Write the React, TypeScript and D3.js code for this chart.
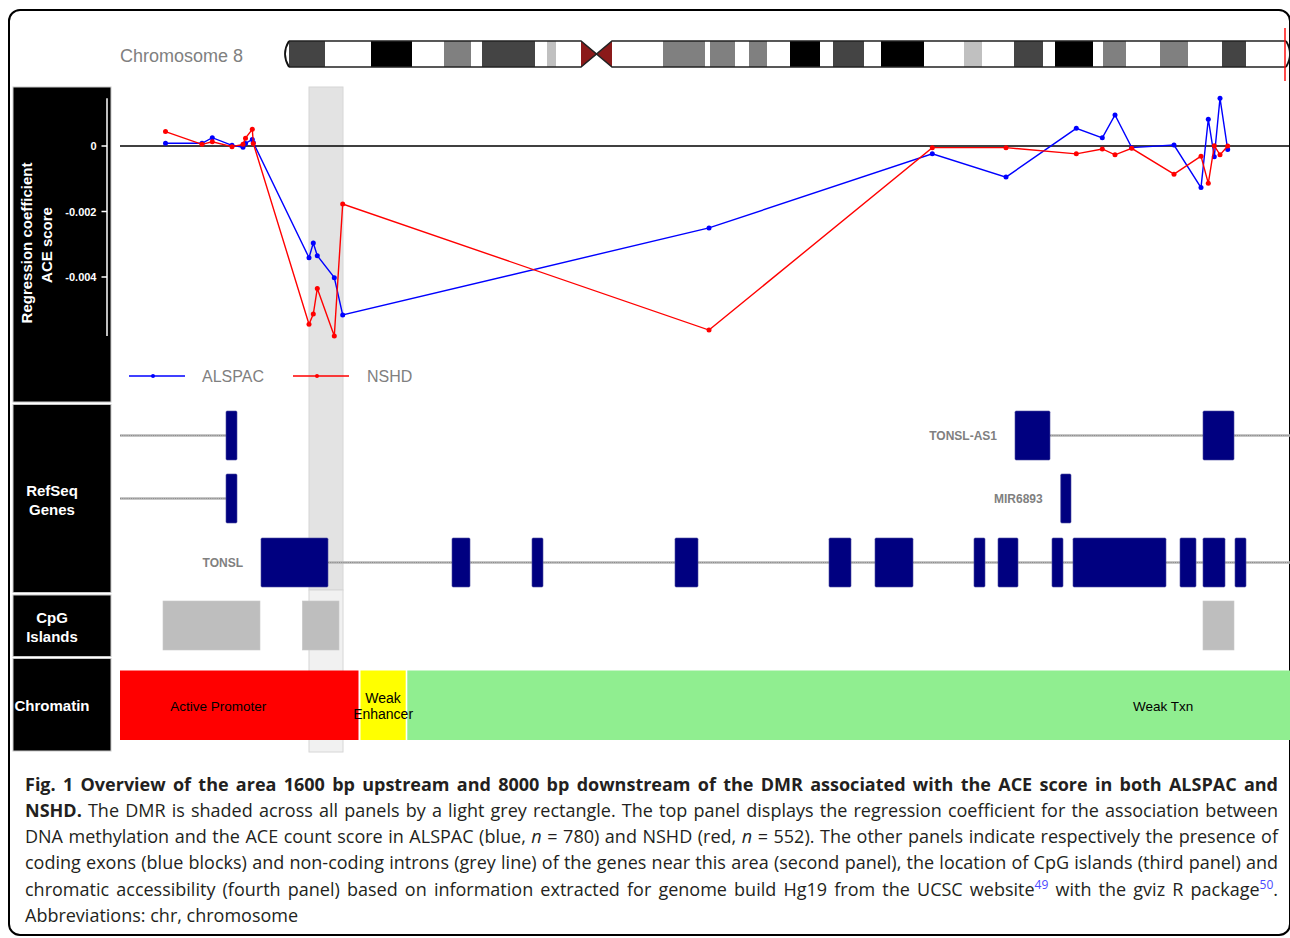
import React, { useLayoutEffect, useRef } from "react";
import * as d3 from "d3";

// Genomic offsets (bp) of the CpG sites measured in the region
const cpgPositions = [
  455, 820, 923, 1120, 1230, 1255, 1323, 1333, 1890, 1933, 1973, 2143, 2227,
  5890, 8123, 8860, 9563, 9823, 9950, 10117, 10540, 10810, 10883, 10943, 11000, 11077,
];
// Regression coefficients for the ACE score, ALSPAC cohort
const alspacCoef = [
  0.000082, 0.000082, 0.000253, 0.00002, -0.00004, 0.00008, 0.0002, 0.0001,
  -0.00341, -0.00296, -0.00335, -0.00402, -0.00516, -0.0025, -0.00024, -0.00095,
  0.00054, 0.00025, 0.00095, -0.00005, 0.00003, -0.00127, 0.00082, -0.00033, 0.00146, -0.00011,
];
// Regression coefficients for the ACE score, NSHD cohort
const nshdCoef = [
  0.00044, 0.00005, 0.00013, -0.00002, 0.00005, 0.00024, 0.00051, 0.00008,
  -0.00544, -0.00513, -0.00435, -0.0058, -0.00177, -0.00562, -0.00005, -0.00005,
  -0.00024, -0.00009, -0.00027, -0.00007, -0.00086, -0.00031, -0.00114, 0.00001, -0.00027, 0,
];
const yTicks = [0, -0.002, -0.004];
const regionLength = 11700;
const dmr = [1890, 2230];

// RefSeq transcripts, one per row: exons and intron span
const geneRows = [
  { label: "", exons: [[1060, 1170]], intron: [0, 1060] },
  { label: "TONSL-AS1", exons: [[8950, 9300], [10830, 11140]], intron: [9300, 11700] },
  { label: "", exons: [[1060, 1170]], intron: [0, 1060], row: 1 },
  { label: "MIR6893", exons: [[9407, 9510]], intron: null, row: 1 },
  {
    label: "TONSL",
    exons: [
      [1410, 2080], [3320, 3500], [4120, 4230], [5550, 5780], [7090, 7310], [7550, 7930],
      [8540, 8650], [8780, 8980], [9320, 9430], [9530, 10460], [10600, 10760], [10830, 11050], [11150, 11260],
    ],
    intron: [2080, 11700],
    row: 2,
  },
];
const cpgIslands = [[430, 1400], [1823, 2190], [10830, 11140]];
// Chromatin state segments (full extents; they run past the window edges)
const chromStates = [
  { start: -420, end: 2385, name: ["Active Promoter"], color: "#ff0000" },
  { start: 2405, end: 2857, name: ["Weak", "Enhancer"], color: "#ffff00" },
  { start: 2873, end: 17990, name: ["Weak Txn"], color: "#90ee90" },
];

// Chromosome 8 ideogram bands (pixel extents along the drawn ideogram)
const pArmBands: [number, number, string][] = [
  [289, 325, "#444"], [325, 371, "#fff"], [371, 412, "#000"], [412, 444, "#fff"],
  [444, 471, "#808080"], [471, 482, "#fff"], [482, 535, "#444"], [535, 547, "#fff"],
  [547, 556, "#c0c0c0"], [556, 581, "#fff"],
];
const qArmBands: [number, number, string][] = [
  [612, 663, "#fff"], [663, 705, "#808080"], [705, 710, "#fff"], [710, 735, "#808080"],
  [735, 749, "#fff"], [749, 767, "#808080"], [767, 790, "#fff"], [790, 820, "#000"],
  [820, 833, "#fff"], [833, 864, "#444"], [864, 881, "#fff"], [881, 924, "#000"],
  [924, 964, "#fff"], [964, 982, "#c0c0c0"], [982, 1014, "#fff"], [1014, 1043, "#444"],
  [1043, 1055, "#fff"], [1055, 1093, "#000"], [1093, 1103, "#fff"], [1103, 1126, "#808080"],
  [1126, 1160, "#fff"], [1160, 1188, "#808080"], [1188, 1222, "#fff"], [1222, 1246, "#444"],
  [1246, 1286, "#fff"],
];

const W = 1290;
const H = 938;
const plotLeft = 120;
const plotRight = 1290;
const ARIAL = "'Liberation Sans', Arial, sans-serif";

export default function App() {
  const capRef = useRef<SVGGElement>(null);

  const x = d3.scaleLinear().domain([0, regionLength]).range([plotLeft, plotRight]);
  const y = d3.scaleLinear().domain([-0.004, 0]).range([277, 146]);

  const line = d3
    .line<number>()
    .x((_, i) => x(cpgPositions[i]))
    .y((v) => y(v));

  const allVals = [...alspacCoef, ...nshdCoef];
  const yMax = d3.max(allVals)!;
  const yMin = d3.min(allVals)!;

  const rowCenters = [435.5, 498.5, 562.5];
  const exonH = 49;

  useLayoutEffect(() => {
    const fit = () => {
      const g = capRef.current;
      if (!g) return;
      g.querySelectorAll<SVGTextElement>("text[data-w]").forEach((t) => {
        const target = +(t.dataset.w as string);
        t.style.wordSpacing = "0px";
        t.removeAttribute("transform");
        const w = t.getComputedTextLength();
        const spaces = ((t.textContent || "").match(/ /g) || []).length;
        const tx = +(t.getAttribute("x") as string);
        const ty = +(t.getAttribute("y") as string);
        if (w > target) {
          const s = target / w;
          t.setAttribute("transform", `translate(${tx},${ty}) scale(${s},1) translate(${-tx},${-ty})`);
        } else if (t.dataset.j === "1" && spaces > 0) {
          t.style.wordSpacing = `${(target - w) / spaces}px`;
        }
      });
    };
    fit();
    if ((document as any).fonts) (document as any).fonts.ready.then(fit);
  }, []);

  const capFont = "'Open Sans', 'Noto Sans', sans-serif";
  const capFill = "#231f20";
  const capX = 25;
  const capW = 1253;
  const supStyle = { fontSize: 12, fill: "#4b4bff" };

  const clampX = (v: number) => Math.max(plotLeft, Math.min(plotRight, x(v)));

  return (
    <svg
      width={W}
      height={H}
      style={{ position: "absolute", left: 0, top: 0, background: "#fff" }}
      fontFamily={ARIAL}
    >
      {/* figure frame */}
      <rect x={9} y={10} width={1281} height={925} rx={11} fill="none" stroke="#000" strokeWidth={2} />

      {/* chromosome ideogram */}
      <text x={120} y={61.5} fontSize={18} fill="#808080">Chromosome 8</text>
      <g>
        {pArmBands.concat(qArmBands).map(([a, b, c], i) => (
          <rect key={i} x={a} y={41} width={b - a} height={26} fill={c} />
        ))}
        <polygon points="581,41 597,54 581,67" fill="#8b1a1a" />
        <polygon points="612,41 597,54 612,67" fill="#8b1a1a" />
        <path
          d="M289,41 L581,41 L612,67 L1286,67 M289,67 L581,67 L612,41 L1286,41"
          fill="none"
          stroke="#222"
          strokeWidth={1.6}
        />
        <path d="M289,41 Q281,54 289,67" fill="none" stroke="#111" strokeWidth={1.8} />
        <path d="M1286,41 Q1294,54 1286,67" fill="none" stroke="#111" strokeWidth={1.8} />
        <line x1={1285} x2={1285} y1={28} y2={81} stroke="#ff0000" strokeWidth={1.4} />
      </g>

      {/* track title panels */}
      <g>
        <rect x={13} y={87} width={98} height={315} fill="#000" stroke="#c8c8c8" strokeWidth={1} />
        <rect x={13} y={404.5} width={98} height={188} fill="#000" stroke="#c8c8c8" strokeWidth={1} />
        <rect x={13} y={595} width={98} height={61.5} fill="#000" stroke="#c8c8c8" strokeWidth={1} />
        <rect x={13} y={658.5} width={98} height={92.5} fill="#000" stroke="#c8c8c8" strokeWidth={1} />
        <g fill="#fff" fontWeight="bold" fontSize={15} textAnchor="middle">
          <text transform="translate(32,243) rotate(-90)">Regression coefficient</text>
          <text transform="translate(51.5,245) rotate(-90)">ACE score</text>
          <text x={52} y={496}>RefSeq</text>
          <text x={52} y={515}>Genes</text>
          <text x={52} y={623}>CpG</text>
          <text x={52} y={642}>Islands</text>
          <text x={52} y={711}>Chromatin</text>
        </g>
        {/* y axis */}
        <line x1={107} x2={107} y1={y(yMax)} y2={y(yMin)} stroke="#fff" strokeWidth={1.5} />
        {yTicks.map((t) => (
          <g key={t}>
            <line x1={101.5} x2={107} y1={y(t)} y2={y(t)} stroke="#fff" strokeWidth={1.5} />
            <text x={96.5} y={y(t) + 4} fill="#fff" fontWeight="bold" fontSize={11} textAnchor="end">
              {t === 0 ? "0" : t.toFixed(3)}
            </text>
          </g>
        ))}
      </g>

      {/* DMR highlight across all tracks */}
      <rect x={x(dmr[0])} y={87} width={x(dmr[1]) - x(dmr[0])} height={503} fill="#e3e3e3" stroke="#d6d6d6" strokeWidth={1} />
      <rect x={x(dmr[0])} y={590} width={x(dmr[1]) - x(dmr[0])} height={162} fill="#f1f1f1" stroke="#d6d6d6" strokeWidth={1} />

      {/* data track */}
      <line x1={plotLeft} x2={plotRight} y1={y(0)} y2={y(0)} stroke="#000" strokeWidth={1.6} />
      {[
        { vals: alspacCoef, color: "#0000ff" },
        { vals: nshdCoef, color: "#ff0000" },
      ].map((s, k) => (
        <g key={k}>
          <path d={line(s.vals) || ""} fill="none" stroke={s.color} strokeWidth={1.4} />
          {s.vals.map((v, i) => (
            <circle key={i} cx={x(cpgPositions[i])} cy={y(v)} r={2.5} fill={s.color} />
          ))}
        </g>
      ))}

      {/* legend */}
      <g fontSize={16} fill="#808080">
        <line x1={129} x2={185} y1={376} y2={376} stroke="#0000ff" strokeWidth={1.4} />
        <circle cx={153} cy={376} r={2} fill="#0000ff" />
        <text x={202} y={382}>ALSPAC</text>
        <line x1={293} x2={349} y1={376} y2={376} stroke="#ff0000" strokeWidth={1.4} />
        <circle cx={317} cy={376} r={2} fill="#ff0000" />
        <text x={367} y={382}>NSHD</text>
      </g>

      {/* RefSeq genes */}
      {geneRows.map((g, gi) => {
        const cy = rowCenters[g.row ?? 0];
        return (
          <g key={gi}>
            {g.intron && (
              <g>
                <line x1={x(g.intron[0])} x2={x(g.intron[1])} y1={cy} y2={cy} stroke="#b4b4b4" strokeWidth={2.4} />
                <line x1={x(g.intron[0])} x2={x(g.intron[1])} y1={cy} y2={cy} stroke="#8c8c8c" strokeWidth={1} strokeDasharray="1,1.2" />
              </g>
            )}
            {g.exons.map(([a, b], ei) => (
              <rect
                key={ei}
                x={x(a)}
                y={cy - exonH / 2}
                width={x(b) - x(a)}
                height={exonH}
                rx={1.2}
                fill="#000080"
                stroke="#4a4aa0"
                strokeWidth={0.6}
              />
            ))}
            {g.label && (
              <text x={x(g.exons[0][0]) - 18} y={cy + 4.5} fontSize={12} fontWeight="bold" fill="#808080" textAnchor="end">
                {g.label}
              </text>
            )}
          </g>
        );
      })}

      {/* CpG islands */}
      {cpgIslands.map(([a, b], i) => (
        <rect key={i} x={x(a)} y={601} width={x(b) - x(a)} height={49} fill="#bebebe" stroke="#c8c8c8" strokeWidth={0.6} />
      ))}

      {/* chromatin states */}
      {chromStates.map((c, i) => (
        <rect
          key={i}
          x={clampX(c.start)}
          y={670.5}
          width={clampX(c.end) - clampX(c.start)}
          height={69.5}
          fill={c.color}
        />
      ))}
      {chromStates.map((c, i) => {
        const cx = (x(c.start) + x(c.end)) / 2;
        return (
          <g key={i}>
            {c.name.map((n, j) => (
              <text
                key={j}
                x={cx}
                y={705.5 + 5 + (j - (c.name.length - 1) / 2) * 16}
                fontSize={c.name.length > 1 ? 14 : 13.5}
                textAnchor="middle"
                fill="#000"
              >
                {n}
              </text>
            ))}
          </g>
        );
      })}

      {/* caption */}
      <g ref={capRef} fontFamily={capFont} fontSize={18} fill={capFill}>
        <text x={capX} y={791} data-w={capW} data-j="1" fontWeight="bold">
          Fig. 1 Overview of the area 1600 bp upstream and 8000 bp downstream of the DMR associated with the ACE score in both ALSPAC and
        </text>
        <text x={capX} y={817} data-w={capW} data-j="1">
          <tspan fontWeight="bold">NSHD.</tspan> The DMR is shaded across all panels by a light grey rectangle. The top panel displays the regression coefficient for the association between
        </text>
        <text x={capX} y={843} data-w={capW} data-j="1">
          DNA methylation and the ACE count score in ALSPAC (blue, <tspan fontStyle="italic">n</tspan> = 780) and NSHD (red, <tspan fontStyle="italic">n</tspan> = 552). The other panels indicate respectively the presence of
        </text>
        <text x={capX} y={869} data-w={capW} data-j="1">
          coding exons (blue blocks) and non-coding introns (grey line) of the genes near this area (second panel), the location of CpG islands (third panel) and
        </text>
        <text x={capX} y={896} data-w={capW} data-j="1">
          chromatic accessibility (fourth panel) based on information extracted for genome build Hg19 from the UCSC website<tspan dy={-7} style={supStyle}>49</tspan><tspan dy={7}> with the gviz R package</tspan><tspan dy={-7} style={supStyle}>50</tspan><tspan dy={7}>.</tspan>
        </text>
        <text x={capX} y={922} data-w={277} data-j="0">
          Abbreviations: chr, chromosome
        </text>
      </g>
    </svg>
  );
}
